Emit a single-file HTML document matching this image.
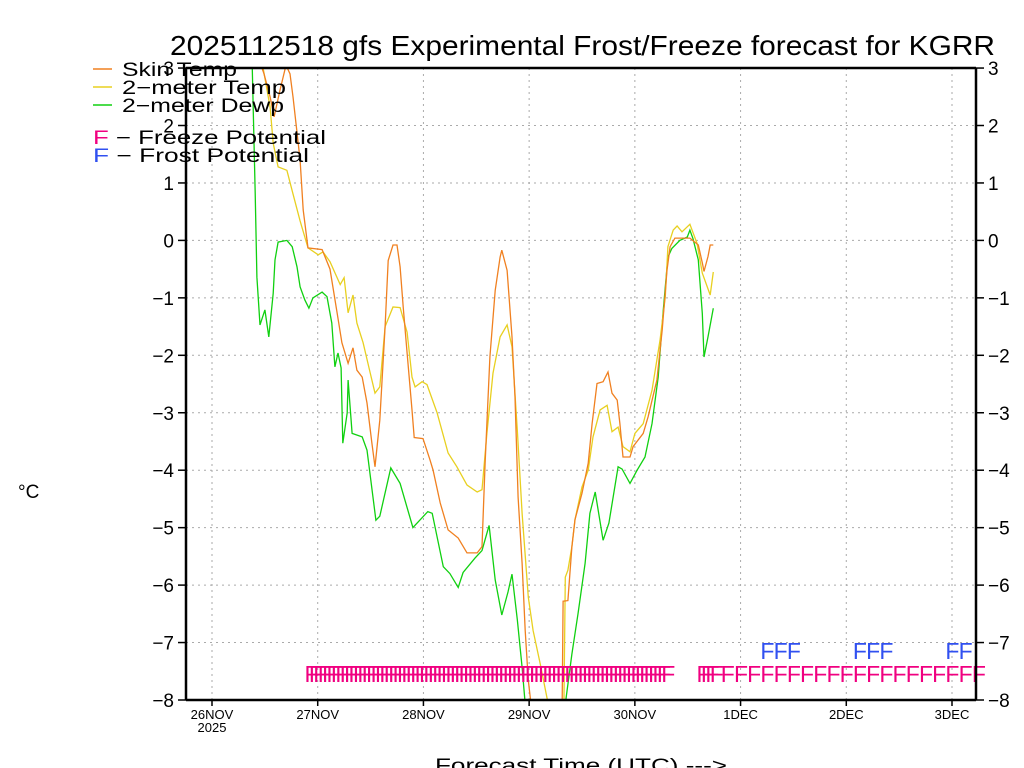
<!DOCTYPE html>
<html><head><meta charset="utf-8">
<style>
html,body{margin:0;padding:0;background:#fff;}
svg{display:block;}
text{font-family:"Liberation Sans",sans-serif;}
</style></head>
<body>
<svg id="chart" width="1024" height="768" viewBox="0 0 1024 768" xmlns="http://www.w3.org/2000/svg">
<defs><clipPath id="plotclip"><rect x="186" y="68" width="790" height="632"/></clipPath></defs>
<rect width="1024" height="768" fill="#fff"/>
<text x="170" y="55" font-size="28" textLength="825" lengthAdjust="spacingAndGlyphs">2025112518 gfs Experimental Frost/Freeze forecast for KGRR</text>
<g id="grid"></g>
<g id="marks" clip-path="url(#plotclip)"></g>
<g id="freeze"></g>
<g id="axes"></g>
<g id="legend">
  <line x1="93" y1="69" x2="112" y2="69" stroke="#f08020" stroke-width="1.5"/>
  <text x="122" y="76" font-size="19" textLength="115" lengthAdjust="spacingAndGlyphs">Skin Temp</text>
  <line x1="93" y1="87" x2="112" y2="87" stroke="#e8d020" stroke-width="1.5"/>
  <text x="122" y="94" font-size="19" textLength="164" lengthAdjust="spacingAndGlyphs">2−meter Temp</text>
  <line x1="93" y1="105" x2="112" y2="105" stroke="#10d010" stroke-width="1.5"/>
  <text x="122" y="112" font-size="19" textLength="162" lengthAdjust="spacingAndGlyphs">2−meter Dewp</text>
  <text x="93" y="144" font-size="19" textLength="233" lengthAdjust="spacingAndGlyphs"><tspan fill="#f00080">F</tspan> − Freeze Potential</text>
  <text x="93" y="162" font-size="19" textLength="216" lengthAdjust="spacingAndGlyphs"><tspan fill="#3050f0">F</tspan> − Frost Potential</text>
</g>
<text x="18" y="498" font-size="19">°C</text>
<text x="435" y="772" font-size="19" textLength="292" lengthAdjust="spacingAndGlyphs">Forecast Time (UTC) ---&gt;</text>
</svg>
<script>
// ---- data (hours since 26NOV 00Z, °C) ----
const skinHours=[10,11.8,13.2,14.1,15.4,16.8,17.7,18.4,20,20.7,21.8,25,26.8,28.4,29.5,30.9,32,32.9,34.1,35.2,36.3,37,38.1,39.3,40,41.1,42,42.7,43.4,44.3,45.4,45.9,47.9,49.5,50.2,51.8,53.6,55.9,57.9,60.2,61.3,62,63.1,64.3,65.4,65.8,67,68.1,68.8,69.5,70.4,71.1,71.8,72.4,74,78,79.5,79.7,80.8,81.7,82.4,84,85.4,86.3,87.4,88.8,89.9,90.8,92,92.6,93.3,94.9,95.6,97.9,99,101,102.2,103.3,104,105.1,108.5,110.4,111.3,111.7,112.6,113.1,113.8];
const skinTemp=[3.3,2.9,2.5,2.15,2.6,3.05,2.9,2.5,1.4,0.53,-0.13,-0.16,-0.5,-1.26,-1.78,-2.14,-1.87,-2.26,-2.38,-2.83,-3.53,-3.94,-3.13,-1.5,-0.35,-0.08,-0.08,-0.46,-1.16,-1.96,-2.95,-3.43,-3.45,-3.82,-4.0,-4.57,-5.04,-5.18,-5.44,-5.44,-5.33,-3.88,-2.03,-0.87,-0.29,-0.17,-0.52,-1.68,-2.73,-4.47,-5.62,-6.79,-7.66,-8.05,-9,-9.5,-8.0,-6.28,-6.27,-5.33,-4.86,-4.4,-3.88,-3.19,-2.49,-2.46,-2.29,-2.66,-2.78,-3.19,-3.77,-3.77,-3.59,-3.36,-3.07,-2.43,-1.56,-0.52,-0.11,0.04,0.04,-0.08,-0.39,-0.54,-0.28,-0.08,-0.08];
const airHours=[11,11.6,13.2,13.9,15,17,18.4,20,21.8,24.1,25.2,26.8,29.1,30,30.9,32,32.9,34.3,35.9,37,38.1,39.3,41.1,42.7,44.3,45.4,46.1,47.7,48.8,51.1,53.6,55.6,57.9,60.2,61.3,62.4,63.8,65.4,67,68.1,69.3,70.4,71.8,72.9,74.5,76.3,78,79.9,80.2,80.8,81.7,82.4,84,85.4,86.5,88.1,89.7,90.8,92.2,93.3,94.9,96,97.9,99.9,101.7,102.9,103.5,104.7,105.6,106.7,108.5,110.1,111.3,113.1,113.8];
const airTemp=[3.4,3.0,2.32,1.69,1.28,1.22,0.81,0.34,-0.13,-0.25,-0.2,-0.37,-0.77,-0.65,-1.26,-0.95,-1.44,-1.78,-2.3,-2.66,-2.55,-1.5,-1.16,-1.17,-1.6,-2.38,-2.55,-2.46,-2.51,-3.0,-3.7,-3.94,-4.26,-4.38,-4.34,-3.36,-2.31,-1.68,-1.47,-1.85,-3.3,-4.75,-6.21,-6.79,-7.37,-8.06,-8.6,-8.1,-5.86,-5.74,-5.33,-4.86,-4.29,-4.0,-3.42,-2.95,-2.87,-3.33,-3.25,-3.59,-3.68,-3.36,-3.19,-2.61,-1.74,-0.98,-0.11,0.18,0.25,0.15,0.28,-0.05,-0.57,-0.95,-0.55];
const dewHours=[9,9.8,10.2,10.9,12,12.9,13.9,14.3,15,17,18.2,19.3,20,21.1,22,22.9,25,26.1,27.2,27.9,28.6,29.3,29.7,30.7,30.9,31.8,34.1,35.2,37.2,38.1,40.6,42.7,45.6,49,50,52.5,54,55.9,57,59.7,61.3,62.9,64.3,65.8,67.2,68.1,69.3,70.4,71.1,74.5,80.2,81.7,83.1,84.7,85.8,87,88.8,90.1,92.2,93.1,94.9,96.5,98.3,99.9,101.3,102.4,103.5,104.4,106.2,107.9,108.5,109.2,110.4,111.3,111.7,112.6,113.8];
const dewPoint=[3.5,0.82,-0.64,-1.47,-1.21,-1.68,-0.92,-0.34,-0.03,0.0,-0.11,-0.46,-0.81,-1.04,-1.18,-1.0,-0.9,-0.98,-1.44,-2.2,-1.96,-2.22,-3.53,-3.0,-2.43,-3.36,-3.42,-3.65,-4.87,-4.8,-3.96,-4.23,-5.0,-4.72,-4.75,-5.68,-5.8,-6.04,-5.78,-5.53,-5.4,-4.96,-5.91,-6.52,-6.12,-5.81,-6.6,-7.43,-8.07,-9,-8.07,-7.2,-6.5,-5.62,-4.75,-4.38,-5.22,-4.92,-3.94,-3.98,-4.23,-4.0,-3.77,-3.19,-2.38,-1.27,-0.29,-0.14,0.0,0.06,0.18,0.03,-0.34,-1.27,-2.03,-1.68,-1.18];
const freezeRanges=[[21,102,1],[110,113,1],[115.5,172.5,3]];
const frostHours=[124.5,127.5,130.5,145.5,148.5,151.5,166.5,169.5];
const yTicks=[-8,-7,-6,-5,-4,-3,-2,-1,0,1,2,3];
const dayLabels=["26NOV","27NOV","28NOV","29NOV","30NOV","1DEC","2DEC","3DEC"];
const yearLabel="2025";

// ---- scales ----
const X0=212, PXH=740/168, Y0=240.4, PXV=57.45;
const xs=h=>X0+h*PXH;
const ys=v=>Y0-v*PXV;
const NS="http://www.w3.org/2000/svg";
function mk(tag,attrs,parent){const e=document.createElementNS(NS,tag);for(const k in attrs)e.setAttribute(k,attrs[k]);parent.appendChild(e);return e;}
const grid=document.getElementById('grid'),marks=document.getElementById('marks'),axes=document.getElementById('axes'),fz=document.getElementById('freeze');

// grid
yTicks.forEach(v=>{
  const g=mk('line',{x1:186,x2:976,y1:ys(v),y2:ys(v),stroke:'#aaa','stroke-width':1,'stroke-dasharray':'2,4'},grid);
  
  
});
dayLabels.forEach((d,i)=>{
  const g=mk('line',{x1:xs(i*24),x2:xs(i*24),y1:68,y2:700,stroke:'#aaa','stroke-width':1,'stroke-dasharray':'2,4'},grid);
  
  
});

// series
function series(hours,vals,color,name){
  const p=hours.map((h,i)=>xs(h).toFixed(1)+','+ys(vals[i]).toFixed(1)).join(' ');
  const e=mk('polyline',{points:p,fill:'none',stroke:color,'stroke-width':1.3},marks);
  
  
}
series(dewHours,dewPoint,'#10d010','dewpoint-line');
series(airHours,airTemp,'#e8d020','2m-temp-line');
series(skinHours,skinTemp,'#f08020','skin-temp-line');

// freeze / frost markers
function fmark(h,top,color,name){
  const t=mk('text',{x:xs(h),y:top+18,'font-size':23,fill:color,transform:'scale(1,1)'},fz);
  t.textContent='F';
  
  
}
freezeRanges.forEach(r=>{for(let h=r[0];h<=r[1]+1e-6;h+=r[2])fmark(h,664,'#f00080','freeze-marker');});
frostHours.forEach(h=>fmark(h,641,'#3050f0','frost-marker'));

// frame
[[186,68,976,68],[186,700,976,700],[186,68,186,700],[976,68,976,700]].forEach(l=>{
  const e=mk('line',{x1:l[0],y1:l[1],x2:l[2],y2:l[3],stroke:'#000','stroke-width':2.5},axes);
  
  
});
// y ticks & labels
yTicks.forEach(v=>{
  const y=ys(v);
  mk('line',{x1:178,x2:186,y1:y,y2:y,stroke:'#000','stroke-width':1.5},axes);
  mk('line',{x1:976,x2:984,y1:y,y2:y,stroke:'#000','stroke-width':1.5},axes);
  const s=v<0?'−'+(-v):String(v);
  const l=mk('text',{x:174,y:y+7,'font-size':19,'text-anchor':'end'},axes);
  l.textContent=s;
  
  
  const r=mk('text',{x:988,y:y+7,'font-size':19},axes);
  r.textContent=s;
  
  
});
// x ticks & labels
dayLabels.forEach((d,i)=>{
  const x=xs(i*24);
  mk('line',{x1:x,x2:x,y1:700,y2:706,stroke:'#000','stroke-width':1.5},axes);
  const t=mk('text',{x:x,y:719,'font-size':13,'text-anchor':'middle'},axes);
  t.textContent=d;
  
  
});
const yr=mk('text',{x:xs(0),y:732,'font-size':13,'text-anchor':'middle'},axes);
yr.textContent=yearLabel;


</script>
</body></html>
